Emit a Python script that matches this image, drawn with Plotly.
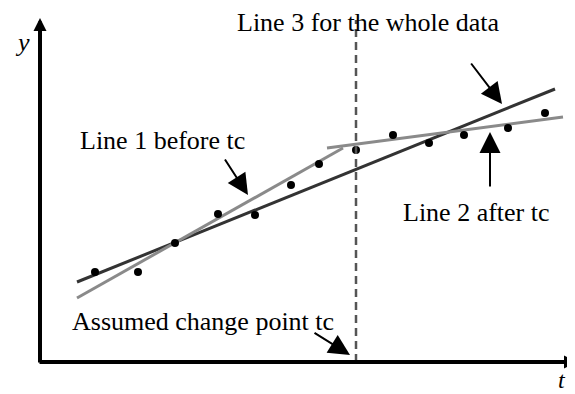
import plotly.graph_objects as go

# Observations (abstract units: 1 unit ~ 10 px)
t_obs = [5.5, 9.8, 13.5, 17.8, 21.5, 25.1, 27.9, 31.6, 35.3, 38.9, 42.4, 46.8, 50.5]
y_obs = [9.0, 9.0, 11.9, 14.8, 14.7, 17.7, 19.8, 21.2, 22.7, 21.9, 22.7, 23.4, 24.9]

# Fitted lines (end points)
line1_t = [3.7, 30.3]
line1_y = [6.4, 21.4]
line2_t = [28.7, 52.3]
line2_y = [21.4, 24.5]
line3_t = [3.7, 51.5]
line3_y = [8.0, 27.3]

tc = 31.6  # assumed change point
tc_top = 34.2

FONT = "Liberation Serif, Times New Roman, serif"

fig = go.Figure()
fig.add_trace(go.Scatter(x=line3_t, y=line3_y, mode="lines",
                         line=dict(color="#333333", width=3), hoverinfo="skip"))
fig.add_trace(go.Scatter(x=line1_t, y=line1_y, mode="lines",
                         line=dict(color="#8a8a8a", width=3), hoverinfo="skip"))
fig.add_trace(go.Scatter(x=line2_t, y=line2_y, mode="lines",
                         line=dict(color="#8a8a8a", width=3), hoverinfo="skip"))
fig.add_trace(go.Scatter(x=t_obs, y=y_obs, mode="markers",
                         marker=dict(color="black", size=8), hoverinfo="skip"))
fig.add_trace(go.Scatter(x=[tc, tc], y=[0, tc_top], mode="lines",
                         line=dict(color="#555555", width=2.5, dash="8px,5px"),
                         hoverinfo="skip"))

anns = []
# axes arrows
anns.append(dict(x=0, y=34.4, ax=0, ay=-0.2, xref="x", yref="y", axref="x", ayref="y",
                 showarrow=True, arrowhead=2, arrowsize=0.65, arrowwidth=4,
                 arrowcolor="black", text=""))
anns.append(dict(x=53.7, y=0, ax=-0.2, ay=0, xref="x", yref="y", axref="x", ayref="y",
                 showarrow=True, arrowhead=2, arrowsize=0.65, arrowwidth=4,
                 arrowcolor="black", text=""))

# pointer arrows
pointers = [
    ((20.8, 16.7), (18.4, 20.4)),
    ((46.2, 25.8), (43.0, 30.0)),
    ((45.0, 23.0), (45.0, 17.4)),
    ((31.0, 0.7), (27.3, 3.0)),
]
for (tx, ty), (sx, sy) in pointers:
    anns.append(dict(x=tx, y=ty, ax=sx, ay=sy, xref="x", yref="y", axref="x", ayref="y",
                     showarrow=True, arrowhead=2, arrowsize=2.1, arrowwidth=2,
                     arrowcolor="black", text=""))

texts = [
    ("Line 3 for the whole data", 32.85, 34.0),
    ("Line 1 before tc", 12.25, 22.2),
    ("Line 2 after tc", 43.6, 15.0),
    ("Assumed change point tc", 16.3, 4.1),
]
for txt, x, y in texts:
    anns.append(dict(x=x, y=y, xref="x", yref="y", text=txt, showarrow=False,
                     xanchor="center", yanchor="middle",
                     font=dict(family=FONT, size=26, color="black")))

anns.append(dict(x=-1.8, y=32.0, xref="x", yref="y", text="<i>y</i>", showarrow=False,
                 font=dict(family=FONT, size=26, color="black")))
anns.append(dict(x=52.2, y=-3.2, xref="x", yref="y", text="<i>t</i>", showarrow=False,
                 xanchor="center", yanchor="bottom", borderpad=0,
                 font=dict(family=FONT, size=24, color="black")))

# The page body has an 8px margin, so the figure is 8px smaller and its ranges start 8px in.
fig.update_layout(
    width=567, height=386,
    margin=dict(l=0, r=0, t=0, b=0),
    paper_bgcolor="white", plot_bgcolor="white",
    showlegend=False,
    xaxis=dict(range=[-3.2, 53.5], visible=False, fixedrange=True),
    yaxis=dict(range=[-3.2, 35.4], visible=False, fixedrange=True),
    annotations=anns,
)

fig.write_html("out.html")
